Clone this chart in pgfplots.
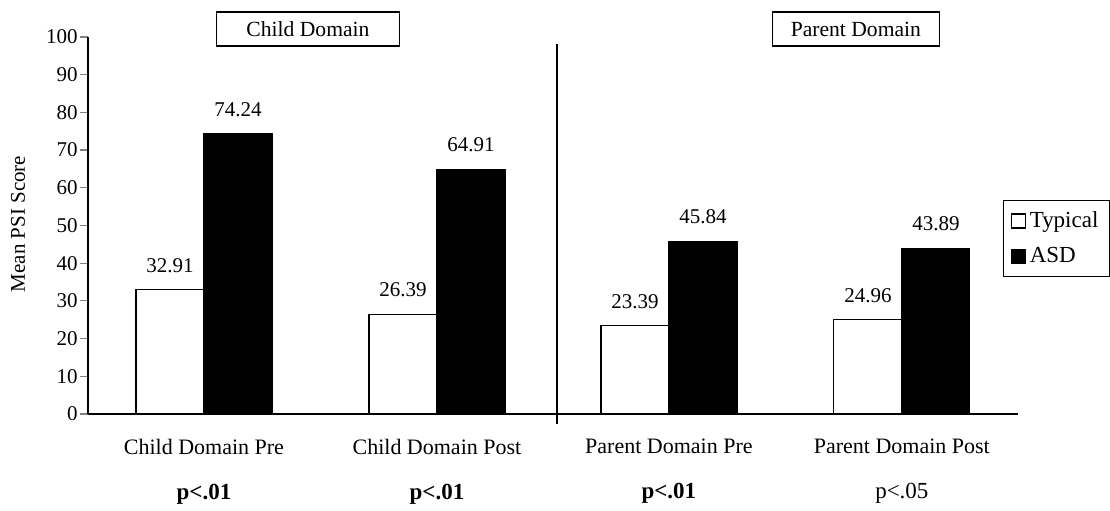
\documentclass[border=0pt]{standalone}
\usepackage{pgfplots}
\pgfplotsset{compat=1.18}
\usepackage{fontspec}
\setmainfont{Liberation Serif}

\begin{document}
\begin{tikzpicture}
\begin{axis}[
    name=ax,
    scale only axis,
    width=465pt, height=188.5pt,
    xmin=0, xmax=930, ymin=0, ymax=100,
    axis lines=left,
    axis line style={-, line width=0.65pt},
    ybar, bar width=68,
    ytick={0,10,...,100},
    tick align=outside,
    ytick style={line width=0.6pt},
    major tick length=4pt,
    yticklabel style={font=\fontsize{10.5}{12}\selectfont, inner sep=1pt},
    /pgf/number format/assume math mode=true,
    xtick={116,349,581,814},
    xtick style={draw=none},
    xticklabels={Child Domain Pre\\\fontsize{11.5}{12}\selectfont\textbf{p<.01},
                 Child Domain Post\\\fontsize{11.5}{12}\selectfont\textbf{p<.01},
                 Parent Domain Pre\\\fontsize{11.5}{12}\selectfont\textbf{p<.01},
                 Parent Domain Post\\\fontsize{11.5}{12}\selectfont p<.05},
    xticklabel style={align=center, font=\fontsize{11}{22.5}\selectfont, yshift=-5pt},
    ylabel={Mean PSI Score},
    every axis y label/.style={at={(axis description cs:-0.0753,0.504)}, rotate=90, anchor=center, font=\fontsize{10.5}{12}\selectfont},
    nodes near coords,
    every node near coord/.append style={font=\fontsize{10.5}{12}\selectfont, yshift=5pt, black},
    legend cell align=left,
    legend style={at={(axis description cs:0.984,0.568)}, anchor=north west,
      draw=black, line width=0.6pt, font=\fontsize{11.5}{13}\selectfont,
      row sep=4.5pt, inner sep=3.5pt},
    legend image code/.code={\draw[#1, line width=0.6pt] (0pt,-3.5pt) rectangle (7pt,3.5pt);},
    clip=false,
    ]
\addplot[draw=black, fill=white, line width=0.6pt, bar shift=-34]
  coordinates {(116,32.91) (349,26.39) (581,23.39) (814,24.96)};
\addplot[draw=black, fill=black, line width=0.6pt, bar shift=34]
  coordinates {(116,74.24) (349,64.91) (581,45.84) (814,43.89)};
\legend{Typical,ASD}
\draw[line width=0.65pt] (axis cs:469,98.1) -- (axis cs:469,-2.7);
\node[draw, line width=0.6pt, minimum width=91.5pt, minimum height=17pt, font=\fontsize{10.8}{12}\selectfont]
  at (axis cs:220,102.1) {Child Domain};
\node[draw, line width=0.6pt, minimum width=83.5pt, minimum height=17pt, font=\fontsize{10.8}{12}\selectfont]
  at (axis cs:768,102.1) {Parent Domain};
\end{axis}
\path[use as bounding box] ([xshift=-44pt,yshift=-46.5pt]ax.south west) rectangle ([xshift=46pt,yshift=18.5pt]ax.north east);
\end{tikzpicture}
\end{document}
